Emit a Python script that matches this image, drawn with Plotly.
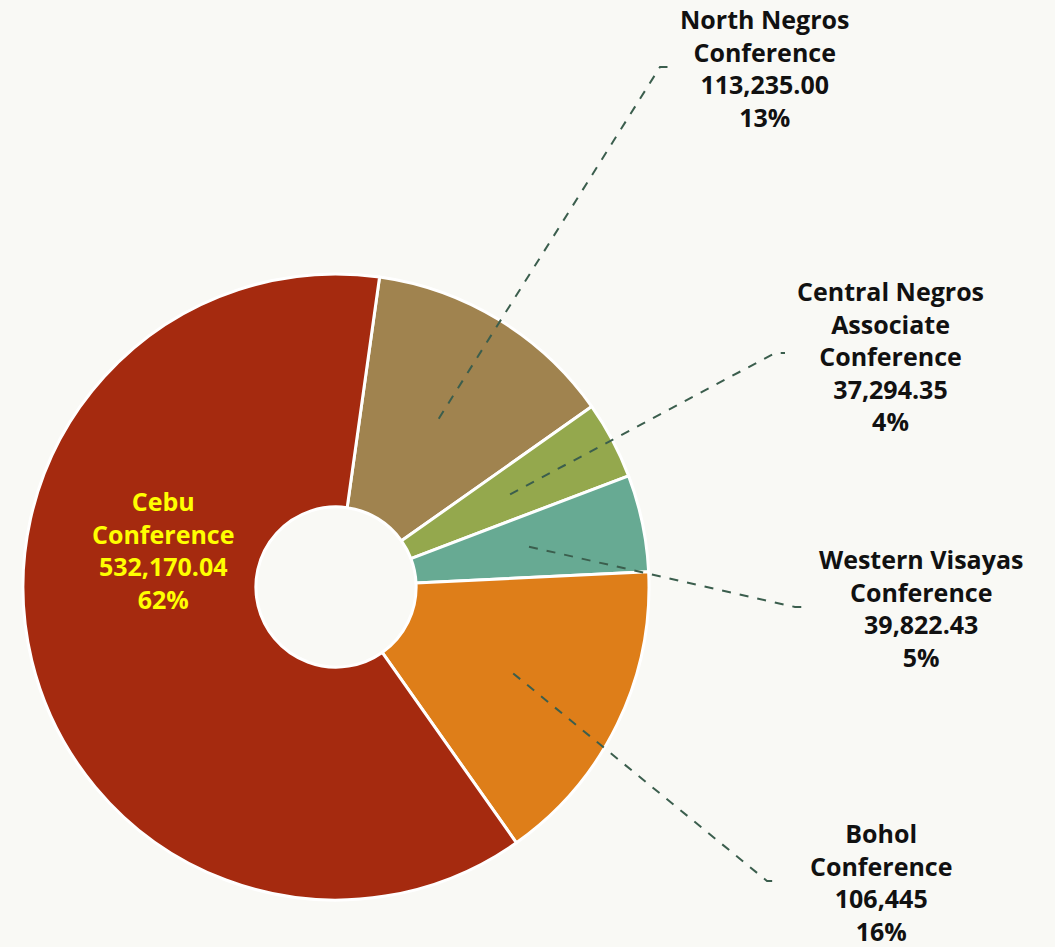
import math
import plotly.graph_objects as go

# ---- data ----
categories = ["North Negros Conference", "Central Negros Associate Conference",
              "Western Visayas Conference", "Bohol Conference", "Cebu Conference"]
label_lines = ["North Negros<br>Conference", "Central Negros<br>Associate<br>Conference",
               "Western Visayas<br>Conference", "Bohol<br>Conference", "Cebu<br>Conference"]
amount_text = ["113,235.00", "37,294.35", "39,822.43", "106,445", "532,170.04"]
shares = [13, 4, 5, 16, 62]
colors = ["#A0834F", "#94A84D", "#67AA93", "#DE7E19", "#A52A0F"]

# ---- layout geometry (pixels) ----
W, H = 1055, 947
cx, cy, R = 336, 587, 313
rotation = 8
hole = 0.256

dom_x = [(cx - R) / W, (cx + R) / W]
dom_y = [1 - (cy + R) / H, 1 - (cy - R) / H]

fig = go.Figure(go.Pie(
    labels=categories,
    values=shares,
    sort=False,
    direction="clockwise",
    rotation=rotation,
    hole=hole,
    marker=dict(colors=colors, line=dict(color="white", width=3)),
    textinfo="none",
    hoverinfo="label+value",
    domain=dict(x=dom_x, y=dom_y),
    showlegend=False,
))

# label anchor positions (pixels) and leader elbows
label_pos = [(764, 68), (890, 356), (921, 608), (881, 882), (163, 550)]
elbows = [((660, 67), (671, 67)), ((775, 353), (785, 353)),
          ((795, 607), (803, 607)), ((767, 881), (778, 881)), None]

total = sum(shares)
ang = rotation
annotations = []
shapes = []
font_family = "Open Sans"
for i, cat in enumerate(categories):
    span = shares[i] / total * 360
    mid = math.radians(ang + span / 2)
    ang += span
    txt = f"{label_lines[i]}<br>{amount_text[i]}<br>{shares[i]}%"
    lx, ly = label_pos[i]
    col = "#FFFF00" if i == 4 else "#111111"
    annotations.append(dict(
        x=lx / W, y=1 - ly / H, xref="paper", yref="paper",
        text=f"<b>{txt}</b>", showarrow=False,
        xanchor="center", yanchor="middle", align="center",
        font=dict(family=font_family, size=25, color=col),
    ))
    if elbows[i] is not None:
        r0 = 0.63 * R
        sx = cx + r0 * math.sin(mid)
        sy = cy - r0 * math.cos(mid)
        (ex, ey), (tx, ty) = elbows[i]
        path = f"M {sx/W} {1-sy/H} L {ex/W} {1-ey/H} L {tx/W} {1-ty/H}"
        shapes.append(dict(type="path", xref="paper", yref="paper", path=path,
                           line=dict(color="#3B5E4D", width=2, dash="dash")))

fig.update_layout(
    width=W, height=H,
    margin=dict(l=0, r=0, t=0, b=0),
    paper_bgcolor="#F9F9F5",
    plot_bgcolor="#F9F9F5",
    annotations=annotations,
    shapes=shapes,
)

fig.write_html(
    "out.html",
    config={"displayModeBar": False},
    post_script="document.body.style.margin='0';document.body.style.overflow='hidden';"
                "document.body.style.background='#F9F9F5';",
)
